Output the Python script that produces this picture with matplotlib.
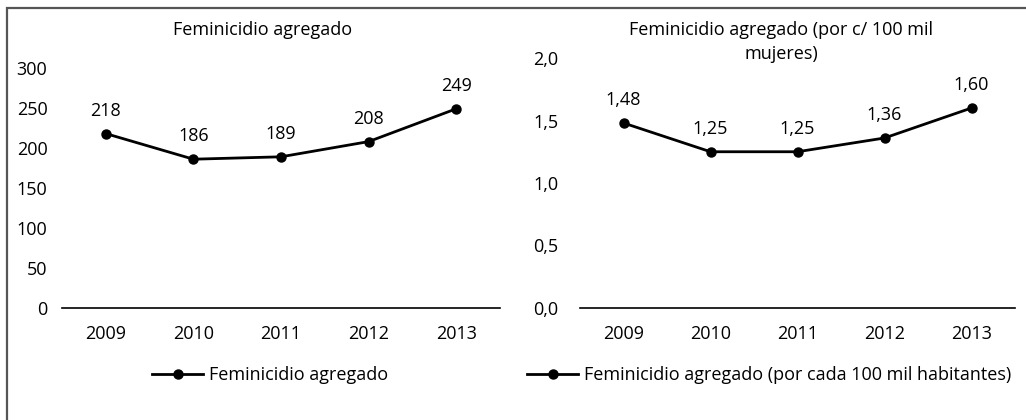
import matplotlib
matplotlib.use("Agg")
import matplotlib.pyplot as plt
from matplotlib.patches import Rectangle
from matplotlib.lines import Line2D

plt.rcParams['font.family'] = ['Open Sans', 'DejaVu Sans']

years = ['2009', '2010', '2011', '2012', '2013']
total = [218, 186, 189, 208, 249]
rate = [1.48, 1.25, 1.25, 1.36, 1.60]

W, H = 1026, 420
FS = 13
LW, MS = 2.0, 6.5
fig = plt.figure(figsize=(W / 100, H / 100), dpi=100)


def box(x0, x1, ytop, ybot):
    # pixel box -> figure fraction
    return [x0 / W, (H - ybot) / H, (x1 - x0) / W, (ybot - ytop) / H]


def panel(ax, vals, ymax, step, fmt, ypad):
    x = range(len(vals))
    ax.plot(x, vals, color='black', lw=LW, marker='o', ms=MS)
    for i, v in enumerate(vals):
        ax.annotate(fmt(v), (i, v), xytext=(0, 10), textcoords='offset points',
                    ha='center', va='bottom', fontsize=FS)
    ax.set_xlim(-0.5, len(vals) - 0.5)
    ax.set_ylim(0, ymax)
    ticks = [i * step for i in range(int(round(ymax / step)) + 1)]
    ax.set_yticks(ticks)
    ax.set_yticklabels([fmt(t) if isinstance(t, int) else f'{t:.1f}'.replace('.', ',') for t in ticks])
    ax.set_xticks(list(x))
    ax.set_xticklabels(years)
    ax.tick_params(length=0, labelsize=FS)
    ax.tick_params(axis='x', pad=12)
    ax.tick_params(axis='y', pad=ypad)
    for s in ['top', 'left', 'right']:
        ax.spines[s].set_visible(False)
    ax.spines['bottom'].set_linewidth(1.2)
    ax.patch.set_alpha(0)


ax1 = fig.add_axes(box(62, 500, 68, 308))
panel(ax1, total, 300, 50, lambda v: str(v), 10.5)

ax2 = fig.add_axes(box(580, 1015, 58, 308))
panel(ax2, rate, 2.0, 0.5, lambda v: f'{v:.2f}'.replace('.', ','), 15.5)

fig.text(263 / W, 1 - 30 / H, 'Feminicidio agregado', ha='center', va='center', fontsize=FS)
fig.text(781 / W, 1 - 30 / H, 'Feminicidio agregado (por c/ 100 mil', ha='center', va='center', fontsize=FS)
fig.text(781 / W, 1 - 54 / H, 'mujeres)', ha='center', va='center', fontsize=FS)

h = Line2D([], [], color='black', lw=LW, marker='o', ms=MS)
fig.legend([h], ['Feminicidio agregado'], loc='center left',
           bbox_to_anchor=(136 / W, 1 - 375 / H), frameon=False, fontsize=FS,
           handlelength=2.8, handletextpad=0.33)
fig.legend([h], ['Feminicidio agregado (por cada 100 mil habitantes)'], loc='center left',
           bbox_to_anchor=(511 / W, 1 - 375 / H), frameon=False, fontsize=FS,
           handlelength=2.8, handletextpad=0.33)

fig.patches.append(Rectangle((6.5 / W, -0.1), 1.2, (H - 7.5) / H + 0.1,
                             transform=fig.transFigure, fill=False,
                             edgecolor='#555555', lw=1.6))

fig.savefig('out.png', dpi=100)
